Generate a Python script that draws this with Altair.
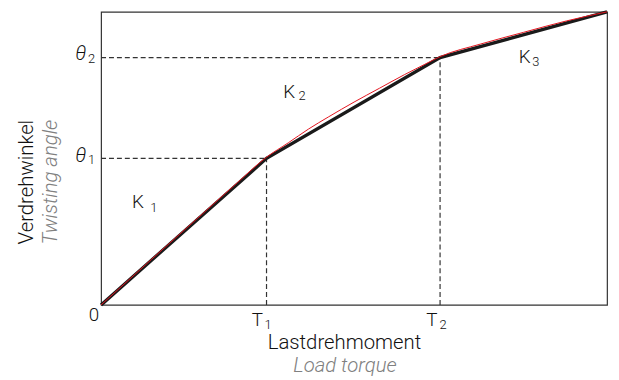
import altair as alt
import pandas as pd

# Piecewise linear characteristic (load torque vs twisting angle), relative units
torque = [0, 32.7, 67.0, 100]
angle = [0, 50.0, 84.4, 100]

# Real (smooth) curve, red
red_x = [0, 10, 20, 27, 32.7, 37, 41, 45, 50, 55, 60, 64, 67, 75, 83.5, 92, 100]
red_y = [0, 15.6, 31.0, 41.8, 50.4, 55.3, 60.0, 64.2, 69.2, 73.9, 78.6, 82.1, 84.7,
         89.0, 93.0, 96.9, 100]

# Annotation texts and their positions (data units)
main_labels = ["0", "T", "T", "K", "K", "K"]
main_x = [-1.4, 30.9, 65.4, 7.3, 37.2, 83.7]
main_y = [-5.4, -7.1, -7.1, 33.1, 70.5, 82.5]
sub_labels = ["1", "2", "1", "2", "3", "1", "2"]
sub_x = [33.0, 67.6, 10.4, 39.7, 85.9, -1.9, -1.9]
sub_y = [-8.2, -8.2, 31.8, 69.8, 81.4, 48.1, 82.4]
theta_labels = ["θ", "θ"]
theta_x = [-4.0, -4.0]
theta_y = [48.9, 83.4]

W, H = 511, 296
FONT = "Roboto"
INK = "#111111"

xs = alt.Scale(domain=[0, 100], nice=False, zero=False)
ys = alt.Scale(domain=[0, 100], nice=False, zero=False)

line_df = pd.DataFrame({"x": torque, "y": angle})
red_df = pd.DataFrame({"x": red_x, "y": red_y})
dash_df = pd.DataFrame({
    "x": [0, 0, torque[1], torque[2]],
    "x2": [torque[1], torque[2], torque[1], torque[2]],
    "y": [angle[1], angle[2], 0, 0],
    "y2": [angle[1], angle[2], angle[1], angle[2]],
})

base_enc = dict(
    x=alt.X("x:Q", scale=xs, axis=None),
    y=alt.Y("y:Q", scale=ys, axis=None),
)

dashes = alt.Chart(dash_df).mark_rule(
    color="#333333", strokeWidth=1.2, strokeDash=[5, 3]
).encode(x=alt.X("x:Q", scale=xs, axis=None), x2="x2:Q",
         y=alt.Y("y:Q", scale=ys, axis=None), y2="y2:Q")

black = alt.Chart(line_df).mark_line(
    color="#1a1a1a", strokeWidth=3.4, clip=False
).encode(**base_enc)

red = alt.Chart(red_df).mark_line(
    color="#e3141e", strokeWidth=1, interpolate="monotone", clip=False
).encode(**base_enc)

main_txt = alt.Chart(pd.DataFrame({"t": main_labels, "x": main_x, "y": main_y})).mark_text(
    font=FONT, fontSize=19, fontWeight=300, color=INK, baseline="alphabetic", align="center"
).encode(**base_enc, text="t:N")

sub_txt = alt.Chart(pd.DataFrame({"t": sub_labels, "x": sub_x, "y": sub_y})).mark_text(
    font=FONT, fontSize=13, fontWeight=300, color=INK, baseline="alphabetic", align="center"
).encode(**base_enc, text="t:N")

theta_txt = alt.Chart(pd.DataFrame({"t": theta_labels, "x": theta_x, "y": theta_y})).mark_text(
    font=FONT, fontSize=20, fontWeight=300, fontStyle="italic", color=INK,
    baseline="alphabetic", align="center"
).encode(**base_enc, text="t:N")

x_title = alt.Chart(pd.DataFrame({"t": ["Lastdrehmoment"], "x": [48.1], "y": [-15.2]})).mark_text(
    font=FONT, fontSize=20.5, fontWeight=300, color=INK, baseline="alphabetic", align="center"
).encode(**base_enc, text="t:N")
x_title2 = alt.Chart(pd.DataFrame({"t": ["Load torque"], "x": [48.2], "y": [-22.8]})).mark_text(
    font=FONT, fontSize=20.5, fontWeight=300, fontStyle="italic", color="#808080",
    baseline="alphabetic", align="center"
).encode(**base_enc, text="t:N")
y_title = alt.Chart(pd.DataFrame({"t": ["Verdrehwinkel"], "x": [-13.5], "y": [41.9]})).mark_text(
    font=FONT, fontSize=20.5, fontWeight=300, color=INK, baseline="alphabetic",
    align="center", angle=270
).encode(**base_enc, text="t:N")
y_title2 = alt.Chart(pd.DataFrame({"t": ["Twisting angle"], "x": [-8.8], "y": [41.9]})).mark_text(
    font=FONT, fontSize=20.5, fontWeight=300, fontStyle="italic", color="#808080",
    baseline="alphabetic", align="center", angle=270
).encode(**base_enc, text="t:N")

chart = alt.layer(
    dashes, black, red, main_txt, sub_txt, theta_txt, x_title, x_title2, y_title, y_title2
).properties(
    width=W, height=H,
    background="white",
    autosize=alt.AutoSizeParams(type="none"),
    padding={"left": 94, "top": 2, "right": 4, "bottom": 74},
).configure_view(
    stroke="#333333", strokeWidth=1.2
)

chart.save("out.html", embed_options={"renderer": "svg", "actions": False})
